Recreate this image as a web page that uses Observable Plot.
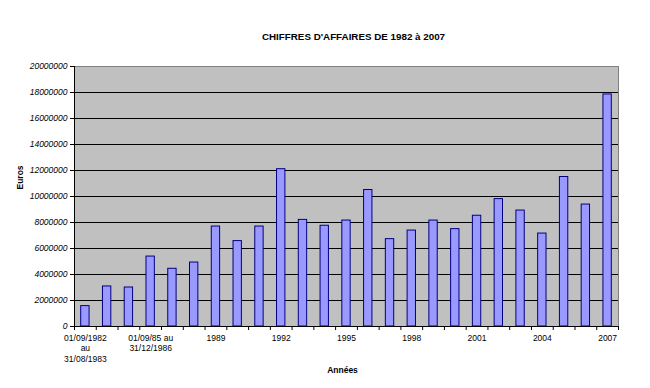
<!DOCTYPE html>
<html><head><meta charset="utf-8">
<script src="https://cdn.jsdelivr.net/npm/d3@7"></script>
<script src="https://cdn.jsdelivr.net/npm/@observablehq/plot@0.6"></script>
<style>body{margin:0;background:#fff;font-family:"Liberation Sans",Arial,sans-serif}</style>
</head><body><div id="chart"></div>
<script>
const categories = ["1982/83","1983/84","1984/85","1985/86","1987","1988","1989","1990","1991","1992","1993","1994","1995","1996","1997","1998","1999","2000","2001","2002","2003","2004","2005","2006","2007"];
const values = [1570000,3080000,3000000,5380000,4440000,4920000,7690000,6570000,7690000,12100000,8200000,7750000,8150000,10500000,6720000,7380000,8150000,7490000,8520000,9800000,8920000,7150000,11500000,9380000,17850000];
const tickLabels = [
  {i:0, label:"01/09/1982\nau\n31/08/1983"},
  {i:3, label:"01/09/85 au\n31/12/1986"},
  {i:6, label:"1989"},
  {i:9, label:"1992"},
  {i:12, label:"1995"},
  {i:15, label:"1998"},
  {i:18, label:"2001"},
  {i:21, label:"2004"},
  {i:24, label:"2007"}
];
const yTicks = d3.range(0, 20000001, 2000000);
const title = "CHIFFRES D'AFFAIRES DE 1982 à 2007";

const data = categories.map((c, i) => ({category: c, idx: i, value: values[i]}));
const labelMap = new Map(tickLabels.map(t => [t.i + 0.5, t.label]));

const chart = Plot.plot({
  width: 650, height: 388,
  marginTop: 66, marginBottom: 62, marginLeft: 74, marginRight: 32,
  style: {fontFamily: "'Liberation Sans', Arial, sans-serif", fontSize: "8.5px", color: "#000", background: "#fff"},
  x: {domain: [0, categories.length], axis: null},
  y: {domain: [0, 20000000], axis: null},
  marks: [
    Plot.frame({fill: "#c0c0c0", stroke: "#808080"}),
    Plot.ruleY(yTicks.filter(v => v > 0 && v < 20000000), {stroke: "#000", strokeWidth: 1}),
    Plot.rectY(data, {x1: "idx", x2: d => d.idx + 1, y: "value", insetLeft: 6.7, insetRight: 6.7, fill: "#9999ff", stroke: "#000080", strokeWidth: 1}),
    Plot.ruleY([0], {stroke: "#000"}),
    Plot.ruleX([0], {stroke: "#000"}),
    Plot.axisY({ticks: yTicks, tickFormat: d => String(d), tickSize: 4, tickPadding: 3, fontStyle: "italic", fontSize: 8.5, label: null}),
    Plot.axisX({ticks: d3.range(categories.length + 1), tickFormat: () => "", tickSize: 4, label: null}),
    Plot.axisX({ticks: tickLabels.map(t => t.i + 0.5), tickFormat: v => labelMap.get(v), tickSize: 0, tickPadding: 7, lineHeight: 1.22, fontSize: 8.5, label: null}),
    Plot.text([title], {frameAnchor: "top", dy: -33, dx: 7, fontWeight: "bold", fontSize: 9.8}),
    Plot.text(["Euros"], {frameAnchor: "left", dx: -54, dy: -7, rotate: -90, fontWeight: "bold", fontSize: 8.5}),
    Plot.text(["Années"], {frameAnchor: "bottom", dy: 46, dx: -4, fontWeight: "bold", fontSize: 8.5})
  ]
});
document.getElementById("chart").appendChild(chart);
</script></body></html>
